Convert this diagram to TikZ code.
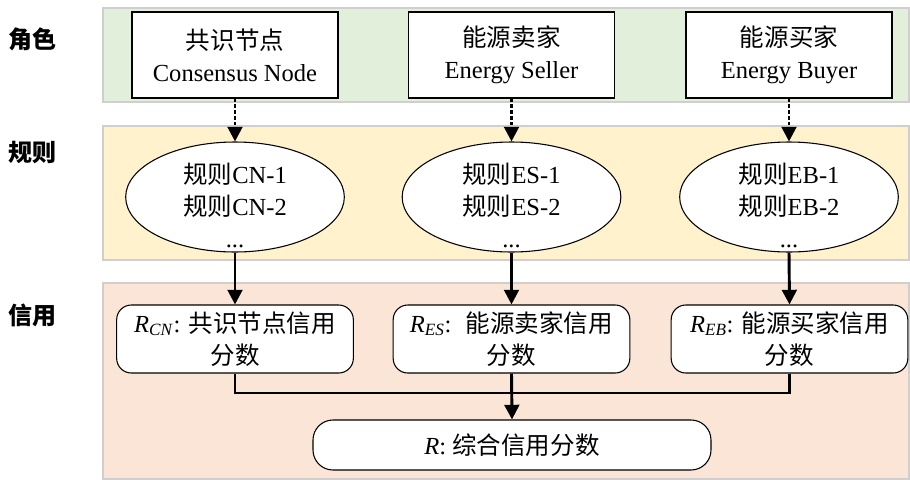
\documentclass[tikz,border=0pt]{standalone}
\usepackage{fontspec}
\setmainfont{Liberation Serif}
\newfontfamily\cjk{Noto Sans CJK SC}
\usetikzlibrary{arrows.meta, shapes.geometric}

\definecolor{rolebg}{HTML}{E2EFDA}
\definecolor{rulebg}{HTML}{FFF2CC}
\definecolor{creditbg}{HTML}{FBE5D6}
\definecolor{bandline}{HTML}{D0CECE}

\newcommand{\zh}[1]{{\cjk #1}}
\newcommand{\rsub}[1]{\textit{R}\textsubscript{\textit{#1}}}

\tikzset{
  band/.style={draw=bandline, line width=1.1pt},
  tag/.style={font=\fontsize{18}{22}\selectfont\cjk\bfseries},
  role/.style={draw, line width=0.8pt, fill=white, align=center, inner sep=0pt,
    minimum width=154.5pt, minimum height=64.5pt},
  rule/.style={ellipse, draw, line width=0.8pt, fill=white, inner sep=0pt,
    minimum width=164pt, minimum height=82.5pt},
  ruletext/.style={align=center, inner sep=0pt},
  credit/.style={draw, line width=0.8pt, fill=white, align=center, inner sep=0pt,
    rounded corners=11pt, minimum width=177.5pt, minimum height=51pt},
  link/.style={line width=2.2pt},
  flow/.style={link, -{Triangle[length=11pt,width=11pt]}},
  hint/.style={flow, dash pattern=on 2.6pt off 1.8pt},
}

\begin{document}
\begin{tikzpicture}[x=0.75pt, y=-0.75pt, font=\fontsize{18.4}{24}\selectfont]
\useasboundingbox (0,0) rectangle (910,479);
% Background bands
\draw[band, fill=rolebg] (103,8) rectangle (909,102);
\draw[band, fill=rulebg] (103,126) rectangle (909,260);
\draw[band, fill=creditbg] (103,283) rectangle (909,479);
% Band labels
\node[tag] (roletag) at (32,39) {角色};
\node[tag] (ruletag) at (32,153) {规则};
\node[tag] (credittag) at (32,315) {信用};
% Roles
\node[role] (cn) at (235,55) {\zh{共识节点}\\Consensus Node};
\node[role] (es) at (511.5,55) {\zh{能源卖家}\\Energy Seller};
\node[role] (eb) at (789,55) {\zh{能源买家}\\Energy Buyer};
% Rules
\node[rule] (cnrule) at (235,197) {};
\node[rule] (esrule) at (511.5,197) {};
\node[rule] (ebrule) at (789,197) {};
\node[ruletext] (cnruletext) at (235,205) {\zh{规则}CN-1\\\zh{规则}CN-2\\...};
\node[ruletext] (esruletext) at (511.5,205) {\zh{规则}ES-1\\\zh{规则}ES-2\\...};
\node[ruletext] (ebruletext) at (789,205) {\zh{规则}EB-1\\\zh{规则}EB-2\\...};
% Credit scores
\node[credit] (cncredit) at (235,339) {\rsub{CN}: \zh{共识节点信用}\\\zh{分数}};
\node[credit] (escredit) at (511.5,339) {\rsub{ES}: \ \zh{能源卖家信用}\\\zh{分数}};
\node[credit] (ebcredit) at (789.5,339) {\rsub{EB}: \zh{能源买家信用}\\\zh{分数}};
\node[credit, minimum width=298.5pt, minimum height=37.5pt, rounded corners=15pt]
  (total) at (512,445) {\textit{R}: \zh{综合信用分数}};
% Connectors
\draw[hint] (cn.south) -- (cnrule.north);
\draw[hint] (es.south) -- (esrule.north);
\draw[hint] (eb.south) -- (ebrule.north);
\draw[flow] (cnrule.south) -- (cncredit.north);
\draw[flow] (esrule.south) -- (escredit.north);
\draw[flow] (ebrule.south) -- (ebcredit.north);
\coordinate (join) at (511.5,393);
\draw[link] (cncredit.south) |- (join);
\draw[link] (ebcredit.south) |- (join);
\draw[flow] (escredit.south) -- (total.north);
\end{tikzpicture}
\end{document}
